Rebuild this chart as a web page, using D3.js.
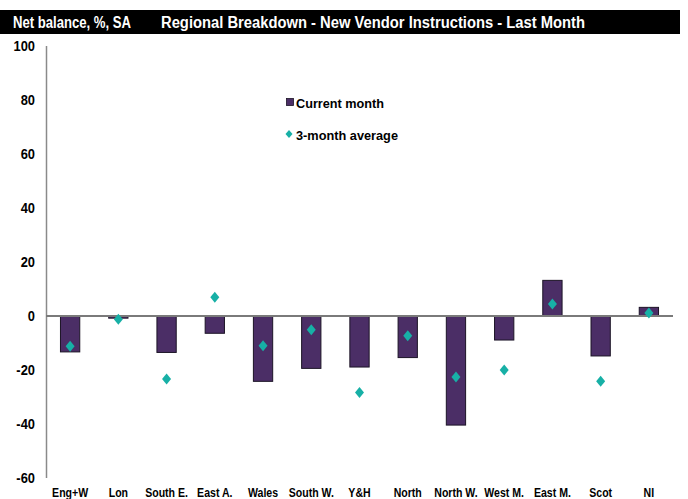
<!DOCTYPE html>
<html>
<head>
<meta charset="utf-8">
<script src="https://cdn.jsdelivr.net/npm/d3@7"></script>
<style>
  body { margin: 0; background: #fff; }
  svg { display: block; }
  .hdr { font-family: "Liberation Sans", Arial, sans-serif; font-weight: bold; fill: #fff; font-size: 16px; }
  .tick-y { font-family: "Liberation Sans", Arial, sans-serif; font-weight: bold; font-size: 15px; fill: #000; }
  .tick-x { font-family: "Liberation Sans", Arial, sans-serif; font-weight: bold; font-size: 12px; fill: #000; }
  .leg { font-family: "Liberation Sans", Arial, sans-serif; font-weight: bold; font-size: 13.5px; fill: #000; }
</style>
</head>
<body>
<svg id="svg" width="688" height="499"></svg>
<script>
// categories and values
var regions = ['Eng+W', 'Lon', 'South E.', 'East A.', 'Wales', 'South W.', 'Y&H', 'North', 'North W.', 'West M.', 'East M.', 'Scot', 'NI'];
var currentMonth = [-13.3, -0.8, -13.5, -6.4, -24.2, -19.4, -18.9, -15.4, -40.4, -8.9, 13.2, -14.8, 3.2];
var threeMonthAvg = [-11.2, -1.2, -23.3, 6.9, -11, -5.1, -28.3, -7.3, -22.6, -20, 4.4, -24.2, 1.1];
var yTicks = [100, 80, 60, 40, 20, 0, -20, -40, -60];

var barColor = '#4b2e66';
var dotColor = '#17b0a6';

var svg = d3.select('#svg');

// header strip
svg.append('rect').attr('x', 0).attr('y', 10).attr('width', 680).attr('height', 24).attr('fill', '#000');
svg.append('text').attr('class', 'hdr').attr('x', 13).attr('y', 28)
    .attr('textLength', 118).attr('lengthAdjust', 'spacingAndGlyphs').text('Net balance, %, SA');
svg.append('text').attr('class', 'hdr').attr('x', 161).attr('y', 28)
    .attr('textLength', 424).attr('lengthAdjust', 'spacingAndGlyphs').text('Regional Breakdown - New Vendor Instructions - Last Month');

var x = d3.scaleBand().domain(regions).range([46, 673]).paddingInner(0.6).paddingOuter(0.3);
var y = d3.scaleLinear().domain([-60, 100]).range([478, 46]);

// y axis line
svg.append('line').attr('x1', 46.5).attr('x2', 46.5).attr('y1', y(100)).attr('y2', y(-60))
    .attr('stroke', '#8a8a8a').attr('stroke-width', 1.5);

// y labels, condensed
svg.append('g').selectAll('text').data(yTicks).enter().append('text')
    .attr('class', 'tick-y')
    .attr('text-anchor', 'end')
    .attr('transform', function(d) { return 'translate(35,' + (y(d) + 5) + ') scale(0.86,1)'; })
    .text(function(d) { return d; });

// bars
svg.append('g').selectAll('rect').data(currentMonth).enter().append('rect')
    .attr('x', function(d, i) { return x(regions[i]); })
    .attr('width', x.bandwidth())
    .attr('y', function(d) { return Math.min(y(d), y(0)); })
    .attr('height', function(d) { return Math.abs(y(d) - y(0)); })
    .attr('fill', barColor)
    .attr('stroke', '#1c1426').attr('stroke-width', 1);

// zero line
svg.append('line').attr('x1', 46).attr('x2', 673).attr('y1', y(0)).attr('y2', y(0))
    .attr('stroke', '#7a7a7a').attr('stroke-width', 2);

// diamonds
var diamond = 'M0,-5.5L4.5,0L0,5.5L-4.5,0Z';
svg.append('g').selectAll('path').data(threeMonthAvg).enter().append('path')
    .attr('d', diamond)
    .attr('transform', function(d, i) { return 'translate(' + (x(regions[i]) + x.bandwidth() / 2) + ',' + y(d) + ')'; })
    .attr('fill', dotColor);

// x labels, slightly condensed like the original
svg.append('g').selectAll('text').data(regions).enter().append('text')
    .attr('class', 'tick-x')
    .attr('text-anchor', 'middle')
    .attr('transform', function(d) { return 'translate(' + (x(d) + x.bandwidth() / 2) + ',497) scale(0.88,1)'; })
    .text(function(d) { return d; });

// legend
svg.append('rect').attr('x', 286.5).attr('y', 98.5).attr('width', 7).attr('height', 7)
    .attr('fill', barColor).attr('stroke', '#1c1426').attr('stroke-width', 0.8);
svg.append('text').attr('class', 'leg').attr('x', 296).attr('y', 107.5)
    .attr('textLength', 88).attr('lengthAdjust', 'spacingAndGlyphs').text('Current month');
svg.append('path').attr('d', 'M0,-4L3.5,0L0,4L-3.5,0Z').attr('transform', 'translate(289,134)').attr('fill', dotColor);
svg.append('text').attr('class', 'leg').attr('x', 296).attr('y', 139.5)
    .attr('textLength', 102).attr('lengthAdjust', 'spacingAndGlyphs').text('3-month average');
</script>
</body>
</html>
